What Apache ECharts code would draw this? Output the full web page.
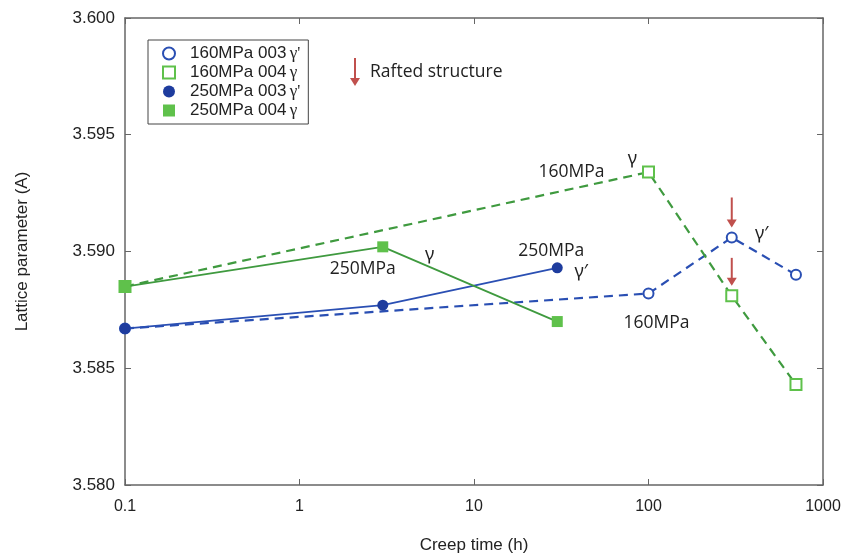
<!DOCTYPE html>
<html>
<head>
<meta charset="utf-8">
<script src="https://cdn.jsdelivr.net/npm/echarts@6/dist/echarts.min.js"></script>
<style>
html, body { margin: 0; padding: 0; background: #fff; }
#chart { width: 848px; height: 557px; }
</style>
</head>
<body>
<div id="chart"></div>
<script>
// creep time (h) and lattice parameter (A)
var times160 = [0.1, 100, 300, 700];
var g160_003 = [3.5867, 3.5882, 3.5906, 3.5890];
var g160_004 = [3.5885, 3.5934, 3.5881, 3.5843];
var times250 = [0.1, 3, 30];
var g250_003 = [3.5867, 3.5877, 3.5893];
var g250_004 = [3.5885, 3.5902, 3.5870];
var xTicks = [0.1, 1, 10, 100, 1000];

var names = ["160MPa 003 γ'", "160MPa 004 γ", "250MPa 003 γ'", "250MPa 004 γ"];
var blue = '#2a4fb3';
var blueDark = '#1e3c9e';
var green = '#3f9a3f';
var greenMark = '#5fc14b';

function pairs(xs, ys) {
    return xs.map(function (x, i) { return [x, ys[i]]; });
}

var chart = echarts.init(document.getElementById('chart'));

var option = {
    animation: false,
    grid: { left: 125, right: 25, top: 18, bottom: 72, containLabel: false, outerBoundsMode: 'none' },
    legend: {
        orient: 'vertical',
        left: 148,
        top: 40,
        padding: [5, 8, 5, 14],
        itemGap: 2,
        itemWidth: 12,
        itemHeight: 12,
        borderColor: '#444',
        borderWidth: 1,
        data: [
            { name: names[0], icon: 'emptyCircle' },
            { name: names[1], icon: 'emptyRect' },
            { name: names[2], icon: 'circle' },
            { name: names[3], icon: 'rect' }
        ],
        formatter: function (name) {
            var p = name.split(' ');
            return '{t|' + p[0] + ' ' + p[1] + '} {g|' + p[2] + '}';
        },
        textStyle: {
            rich: {
                t: { fontFamily: 'Liberation Sans', fontSize: 17, color: '#222', padding: [0, 0, 0, 10] },
                g: { fontFamily: 'Liberation Serif', fontSize: 17, color: '#222' }
            }
        }
    },
    xAxis: [{
        type: 'log',
        logBase: 10,
        min: 0.1,
        max: 1000,
        name: 'Creep time (h)',
        nameLocation: 'middle',
        nameGap: 52,
        nameTextStyle: { fontFamily: 'Liberation Sans', fontSize: 17, color: '#222' },
        axisLine: { lineStyle: { color: '#666', width: 1.5 } },
        axisTick: { inside: true, length: 6, lineStyle: { color: '#666' } },
        minorTick: { show: false },
        splitLine: { show: false },
        axisLabel: {
            fontFamily: 'Liberation Sans', fontSize: 16, color: '#222', margin: 14,
            formatter: function (v) {
                var t = xTicks.filter(function (k) { return Math.abs(k - v) / k < 1e-6; });
                return t.length ? String(t[0]) : '';
            }
        }
    }, {
        type: 'log',
        logBase: 10,
        min: 0.1,
        max: 1000,
        position: 'top',
        axisLine: { lineStyle: { color: '#666', width: 1.5 } },
        axisTick: { inside: true, length: 6, lineStyle: { color: '#666' } },
        axisLabel: { show: false },
        splitLine: { show: false }
    }],
    yAxis: [{
        type: 'value',
        min: 3.58,
        max: 3.6,
        interval: 0.005,
        name: 'Lattice parameter (A)',
        nameLocation: 'middle',
        nameGap: 94,
        nameTextStyle: { fontFamily: 'Liberation Sans', fontSize: 17, color: '#222' },
        axisLine: { show: true, lineStyle: { color: '#666', width: 1.5 } },
        axisTick: { show: true, inside: true, length: 6, lineStyle: { color: '#666' } },
        splitLine: { show: false },
        axisLabel: {
            fontFamily: 'Liberation Sans', fontSize: 17, color: '#222', margin: 10,
            formatter: function (v) { return v.toFixed(3); }
        }
    }, {
        type: 'value',
        min: 3.58,
        max: 3.6,
        interval: 0.005,
        position: 'right',
        axisLine: { show: true, lineStyle: { color: '#666', width: 1.5 } },
        axisTick: { show: true, inside: true, length: 6, lineStyle: { color: '#666' } },
        splitLine: { show: false },
        axisLabel: { show: false }
    }],
    series: [{
        name: names[0],
        type: 'line',
        data: pairs(times160, g160_003),
        symbol: 'emptyCircle',
        symbolSize: 10,
        itemStyle: { color: blue, borderWidth: 1.5 },
        lineStyle: { color: blue, width: 2.2, type: [9, 6] },
        z: 3
    }, {
        name: names[1],
        type: 'line',
        data: pairs(times160, g160_004),
        symbol: 'emptyRect',
        symbolSize: 11,
        itemStyle: { color: greenMark, borderWidth: 2 },
        lineStyle: { color: green, width: 2.2, type: [9, 6] },
        z: 3
    }, {
        name: names[2],
        type: 'line',
        data: pairs(times250, g250_003),
        symbol: 'circle',
        symbolSize: 11,
        itemStyle: { color: blueDark },
        lineStyle: { color: blue, width: 1.8 },
        z: 4
    }, {
        name: names[3],
        type: 'line',
        data: pairs(times250, g250_004),
        symbol: 'rect',
        symbolSize: 11,
        itemStyle: { color: greenMark },
        lineStyle: { color: green, width: 1.8 },
        z: 4
    }]
};

chart.setOption(option);

// annotations
var noteFont = '17.5px "Open Sans", "Noto Sans", sans-serif';
var greekFont = '18px "Noto Sans", sans-serif';
function px(x, y) { return chart.convertToPixel({ xAxisIndex: 0, yAxisIndex: 0 }, [x, y]); }
function note(text, p, dx, dy, font) {
    return { type: 'text', x: p[0] + dx, y: p[1] + dy, z: 10,
        style: { text: text, font: font || noteFont, fill: '#222', align: 'center', verticalAlign: 'middle' } };
}
function arrow(x, y1, y2) {
    return { type: 'group', z: 10, children: [
        { type: 'line', shape: { x1: x, y1: y1, x2: x, y2: y2 - 2 }, style: { stroke: '#c0504d', lineWidth: 2 } },
        { type: 'polygon', shape: { points: [[x - 5, y2 - 8], [x + 5, y2 - 8], [x, y2]] }, style: { fill: '#c0504d' } }
    ] };
}

var pA = px(times160[1], g160_004[1]);
var pB = px(times250[1], g250_004[1]);
var pC = px(times250[2], g250_003[2]);
var pD = px(times160[1], g160_003[1]);
var pE = px(times160[2], g160_003[2]);
var pF = px(times160[2], g160_004[2]);

chart.setOption({
    graphic: [
        note('160MPa', pA, -77, 0),
        note('γ', pA, -16, -13, greekFont),
        note('250MPa', pB, -20, 22),
        note('γ', pB, 47, 8, greekFont),
        note('250MPa', pC, -6, -17),
        note('γ′', pC, 24, 4, greekFont),
        note('160MPa', pD, 8, 29),
        note('γ′', pE, 30, -4, greekFont),
        arrow(pE[0], pE[1] - 40, pE[1] - 10),
        arrow(pF[0], pF[1] - 38, pF[1] - 10),
        arrow(355, 58, 86),
        { type: 'text', x: 370, y: 72, z: 10,
          style: { text: 'Rafted structure', font: noteFont, fill: '#222', verticalAlign: 'middle' } }
    ]
});
</script>
</body>
</html>
